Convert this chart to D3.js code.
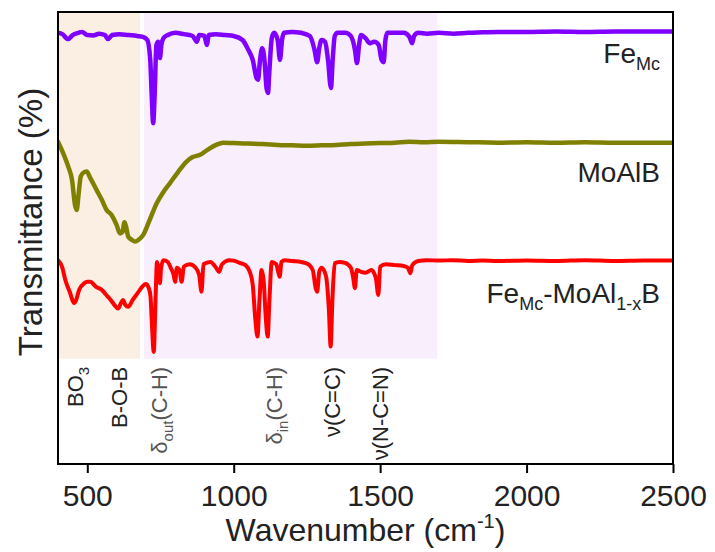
<!DOCTYPE html>
<html>
<head>
<meta charset="utf-8">
<script src="https://d3js.org/d3.v7.min.js"></script>
<style>
  body { margin: 0; background: #fff; }
  text { font-family: "Liberation Sans", Arial, sans-serif; fill: #222; }
</style>
</head>
<body>
<script>
// wavenumber (cm-1) / stacked transmittance (a.u.)
var feMc = [[400,95.4],[415,95.1],[434,94.0],[450,94.9],[470,95.4],[482,95.6],[500,94.9],[520,94.8],[540,95.2],[560,94.9],[571,94.0],[585,94.9],[610,95.1],[640,94.9],[670,94.7],[690,94.5],[705,93.8],[715,89.4],[720,81.6],[725,75.4],[730,81.6],[736,92.7],[742,93.4],[748,89.8],[753,92.7],[760,94.2],[775,94.9],[800,95.4],[830,95.1],[860,94.7],[874,93.4],[882,94.9],[900,94.7],[908,92.7],[915,94.9],[940,95.1],[970,94.9],[1000,94.7],[1030,93.8],[1050,91.6],[1065,89.4],[1078,85.4],[1083,85.0],[1090,89.4],[1097,92.0],[1105,89.4],[1112,83.2],[1117,82.1],[1122,87.2],[1130,94.2],[1138,95.4],[1150,93.8],[1158,89.4],[1165,93.8],[1172,95.4],[1200,95.6],[1230,95.4],[1260,94.7],[1276,91.6],[1285,88.9],[1292,92.0],[1300,93.8],[1312,93.4],[1322,89.4],[1332,83.2],[1338,89.4],[1345,94.7],[1355,95.4],[1380,95.4],[1400,94.7],[1414,91.6],[1421,88.7],[1428,92.7],[1435,94.9],[1450,94.2],[1465,93.1],[1480,93.4],[1495,92.7],[1505,89.4],[1512,88.9],[1518,93.8],[1525,95.4],[1550,95.4],[1580,95.4],[1600,94.5],[1609,93.1],[1616,94.7],[1630,95.4],[1660,95.2],[1700,95.4],[1750,95.2],[1800,95.4],[1850,95.5],[1900,95.6],[2000,95.6],[2100,95.7],[2200,95.6],[2300,95.7],[2400,95.7],[2500,95.7]];

var moAlB = [[400,71.3],[420,68.4],[435,65.8],[448,62.8],[458,57.3],[464,56.2],[470,59.5],[478,63.7],[490,64.6],[498,64.7],[510,63.3],[532,60.6],[550,58.4],[566,56.2],[583,55.1],[600,52.9],[612,51.0],[620,51.3],[627,53.5],[632,52.6],[640,50.3],[652,49.6],[663,49.2],[675,49.6],[691,50.7],[710,53.5],[737,57.7],[760,60.2],[782,62.1],[810,64.6],[839,66.9],[860,67.9],[885,68.4],[910,69.5],[940,70.6],[964,71.1],[1000,71.0],[1050,70.9],[1100,70.8],[1150,70.6],[1200,70.5],[1250,70.4],[1300,70.5],[1350,70.6],[1400,70.8],[1450,70.9],[1500,71.0],[1550,71.1],[1600,71.3],[1650,71.2],[1700,71.3],[1800,71.2],[1900,71.1],[2000,71.2],[2100,71.1],[2200,71.2],[2300,71.1],[2400,71.1],[2500,71.1]];

var feMcMoAlB = [[400,45.1],[415,43.4],[425,40.7],[440,38.1],[455,35.6],[462,36.3],[472,38.5],[490,40.0],[500,40.3],[510,40.3],[530,39.2],[550,38.5],[565,37.4],[580,36.3],[595,35.0],[605,34.4],[615,35.6],[622,36.3],[630,35.2],[640,34.8],[655,36.3],[672,37.8],[690,39.4],[700,39.8],[710,38.9],[716,37.0],[720,31.9],[727,24.8],[733,36.3],[738,44.7],[744,42.9],[748,40.0],[752,43.4],[760,45.1],[775,44.7],[785,43.4],[795,41.8],[800,40.3],[806,43.4],[815,42.9],[822,40.3],[830,43.7],[850,44.2],[870,43.4],[882,41.8],[890,38.1],[897,44.2],[920,44.7],[940,43.4],[950,42.5],[960,44.2],[985,45.1],[1000,45.0],[1020,44.5],[1040,44.0],[1055,42.5],[1065,39.6],[1074,31.9],[1081,28.2],[1088,36.3],[1095,42.9],[1102,40.7],[1110,31.9],[1116,28.2],[1122,36.3],[1130,44.7],[1145,44.2],[1152,42.5],[1157,41.4],[1163,44.7],[1175,45.1],[1200,44.9],[1230,44.7],[1255,44.2],[1270,42.9],[1280,38.9],[1285,38.1],[1292,42.5],[1300,43.4],[1315,41.6],[1325,34.1],[1331,26.0],[1337,36.3],[1345,44.4],[1360,44.7],[1380,44.5],[1400,43.4],[1408,41.2],[1414,38.9],[1420,42.9],[1435,42.5],[1450,42.3],[1470,42.9],[1485,41.2],[1494,37.4],[1500,43.7],[1520,44.2],[1550,44.0],[1580,43.8],[1595,43.4],[1603,42.2],[1610,44.0],[1630,44.9],[1660,45.1],[1700,45.0],[1750,45.1],[1800,44.9],[1850,45.0],[1900,44.9],[2000,45.0],[2100,44.9],[2200,45.1],[2300,44.9],[2400,45.0],[2500,45.0]];

var xTicks = [500, 1000, 1500, 2000, 2500];

// shaded bands
var bandFrom = [400, 694];
var bandTo = [680, 1695];
var bandColor = ["#fbeee3", "#f8eefc"];

// band assignments under the spectra
var peakWn = [458, 609, 746, 1138, 1338, 1502];
var peakMain = ["BO", "B-O-B", "δ", "δ", "ν(C=C)", "ν(N-C=N)"];
var peakSub = ["3", "", "out", "in", "", ""];
var peakRest = ["", "", "(C-H)", "(C-H)", "", ""];

var margin = {top: 12, right: 42, bottom: 88, left: 58},
    width = 715 - margin.left - margin.right,
    height = 552 - margin.top - margin.bottom;

var svg = d3.select("body").append("svg")
    .attr("width", 715)
    .attr("height", 552);

var g = svg.append("g")
    .attr("transform", "translate(" + margin.left + "," + margin.top + ")");

var x = d3.scaleLinear().domain([400, 2500]).range([0, width]);
var y = d3.scaleLinear().domain([0, 100]).range([height, 0]);

g.append("clipPath").attr("id", "clip")
  .append("rect").attr("width", width).attr("height", height);

// bands
g.selectAll(".band")
  .data(bandFrom)
  .enter().append("rect")
    .attr("class", "band")
    .attr("x", (d, i) => x(d))
    .attr("width", (d, i) => x(bandTo[i]) - x(d))
    .attr("y", y(100))
    .attr("height", y(23.3) - y(100))
    .style("fill", (d, i) => bandColor[i]);

var line = d3.line()
    .x(d => x(d[0]))
    .y(d => y(d[1]))
    .curve(d3.curveMonotoneX);

var series = [
  {data: feMc, color: "#7f00ff", w: 4.5},
  {data: moAlB, color: "#808000", w: 4.5},
  {data: feMcMoAlB, color: "#ff0000", w: 4}
];

g.append("g").attr("clip-path", "url(#clip)")
  .selectAll("path")
  .data(series)
  .enter().append("path")
    .attr("d", d => line(d.data))
    .style("fill", "none")
    .style("stroke", d => d.color)
    .style("stroke-width", d => d.w)
    .style("stroke-linejoin", "round")
    .style("stroke-linecap", "round");

// sample labels
function label(yv, parts) {
  var t = g.append("text")
      .attr("x", 602)
      .attr("y", y(yv))
      .attr("text-anchor", "end")
      .style("font-size", "28px");
  parts.forEach(p => {
    var s = t.append("tspan").text(p[0]);
    if (p[1]) s.attr("dy", 7).style("font-size", "18px");
    else if (p[2]) s.attr("dy", -7);
  });
}
label(88.8, [["Fe"], ["Mc", true]]);
label(62.4, [["MoAlB"]]);
label(35.6, [["Fe"], ["Mc", true], ["-MoAl", false, true], ["1-x", true], ["B", false, true]]);

// peak labels
peakWn.forEach((wn, i) => {
  var t = g.append("text")
      .attr("transform", "translate(" + x(wn) + "," + y(21.5) + ") rotate(-90)")
      .attr("text-anchor", "end")
      .attr("dy", "0.35em")
      .style("font-size", "22px")
      .style("fill", peakMain[i] === "δ" ? "#555" : "#222");
  t.append("tspan").text(peakMain[i]);
  if (peakSub[i]) {
    t.append("tspan").text(peakSub[i]).attr("dy", 6).style("font-size", "15px");
    if (peakRest[i]) t.append("tspan").text(peakRest[i]).attr("dy", -6);
  }
});

// frame
g.append("rect")
  .attr("width", width)
  .attr("height", height)
  .style("fill", "none")
  .style("stroke", "#000")
  .style("stroke-width", 2);

var xAxis = g.append("g")
  .attr("transform", "translate(0," + height + ")")
  .call(d3.axisBottom(x).tickValues(xTicks).tickFormat(d3.format("d"))
    .tickSize(9).tickPadding(12).tickSizeOuter(0));
xAxis.select(".domain").remove();
xAxis.selectAll(".tick line").style("stroke", "#000").style("stroke-width", 2);
xAxis.selectAll(".tick text")
  .style("font-size", "30px")
  .style("font-family", "'Liberation Sans', Arial, sans-serif")
  .style("fill", "#222");

var xt = svg.append("text")
  .attr("x", margin.left + width / 2)
  .attr("y", 541)
  .attr("text-anchor", "middle")
  .style("font-size", "32px")
  .text("Wavenumber (cm");
xt.append("tspan").text("-1").attr("dy", -13).style("font-size", "20px");
xt.append("tspan").text(")").attr("dy", 13);

svg.append("text")
  .attr("transform", "translate(42,222) rotate(-90)")
  .attr("text-anchor", "middle")
  .style("font-size", "33px")
  .text("Transmittance (%)");
</script>
</body>
</html>
